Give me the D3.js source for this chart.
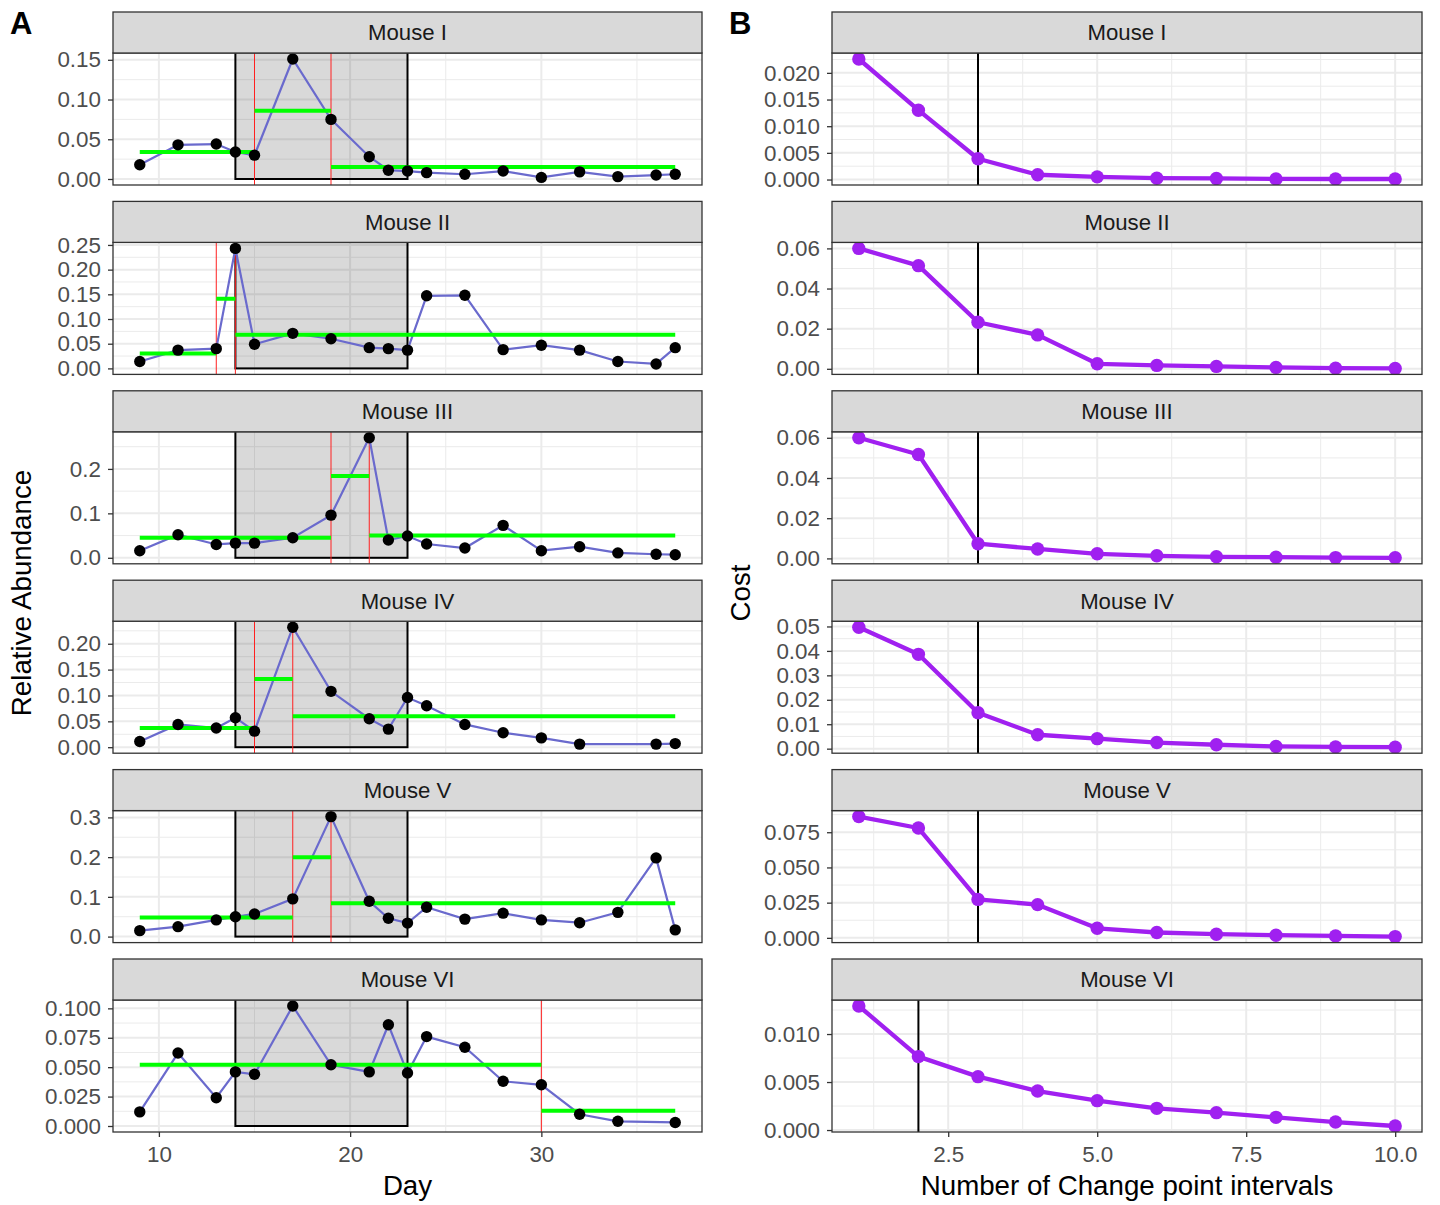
<!DOCTYPE html>
<meta charset="utf-8">
<style>
    body { margin: 0; background: #fff; }
    text { font-family: "Liberation Sans", Arial, sans-serif; }
    .tick text { fill: #4d4d4d; font-size: 22.4px; }
    .tick line { stroke: #333; stroke-width: 1.3px; }
    .domain { display: none; }
    .strip text { font-size: 22.2px; fill: #1a1a1a; }
    .title { font-size: 27.7px; fill: #000; }
</style>
<body>
<svg width="1440" height="1205"></svg>
<script src="https://d3js.org/d3.v7.min.js"></script>
<script>

    // ---- data ----
    var mice = ["Mouse I", "Mouse II", "Mouse III", "Mouse IV", "Mouse V", "Mouse VI"];
    var days = [9, 11, 13, 14, 15, 17, 19, 21, 22, 23, 24, 26, 28, 30, 32, 34, 36, 37];

    var abundI   = [0.018, 0.043, 0.044, 0.034, 0.030, 0.151, 0.075, 0.028, 0.011, 0.010, 0.008, 0.006, 0.010, 0.002, 0.009, 0.003, 0.005, 0.006];
    var abundII  = [0.014, 0.037, 0.040, 0.243, 0.049, 0.071, 0.060, 0.042, 0.040, 0.037, 0.147, 0.148, 0.038, 0.047, 0.037, 0.014, 0.009, 0.042];
    var abundIII = [0.016, 0.052, 0.030, 0.033, 0.033, 0.045, 0.096, 0.270, 0.040, 0.049, 0.031, 0.022, 0.073, 0.016, 0.025, 0.011, 0.008, 0.007];
    var abundIV  = [0.011, 0.044, 0.037, 0.057, 0.031, 0.232, 0.108, 0.055, 0.035, 0.096, 0.080, 0.044, 0.028, 0.018, 0.006, null, 0.006, 0.007];
    var abundV   = [0.015, 0.025, 0.042, 0.050, 0.057, 0.095, 0.302, 0.089, 0.046, 0.034, 0.074, 0.044, 0.059, 0.042, 0.035, 0.061, 0.198, 0.017];
    var abundVI  = [0.012, 0.062, 0.024, 0.046, 0.044, 0.102, 0.052, 0.046, 0.086, 0.045, 0.076, 0.067, 0.038, 0.035, 0.010, 0.004, null, 0.003];

    // change points (days) and the mean level of each interval
    var changeI = [15, 19],   levelI   = [0.034, 0.086, 0.015];
    var changeII = [13, 14],  levelII  = [0.030, 0.141, 0.068];
    var changeIII = [19, 21], levelIII = [0.045, 0.184, 0.050];
    var changeIV = [15, 17],  levelIV  = [0.037, 0.132, 0.060];
    var changeV = [17, 19],   levelV   = [0.048, 0.200, 0.084];
    var changeVI = [30],      levelVI  = [0.052, 0.013];

    var treatment = [14, 23];

    var intervals = [1, 2, 3, 4, 5, 6, 7, 8, 9, 10];
    var costI   = [0.0226, 0.0130, 0.0039, 0.0009, 0.0005, 0.00025, 0.0002, 0.00012, 0.0001, 0.0001];
    var costII  = [0.0600, 0.0514, 0.0232, 0.0169, 0.0025, 0.0017, 0.0012, 0.0007, 0.0003, 0.0002];
    var costIII = [0.0600, 0.0517, 0.0073, 0.0047, 0.0023, 0.0013, 0.0008, 0.0006, 0.0004, 0.0003];
    var costIV  = [0.0497, 0.0386, 0.0147, 0.0057, 0.0041, 0.0025, 0.0016, 0.0009, 0.0007, 0.0006];
    var costV   = [0.0861, 0.0780, 0.0273, 0.0236, 0.0068, 0.0038, 0.0026, 0.0019, 0.0014, 0.0009];
    var costVI  = [0.01292, 0.00765, 0.00556, 0.00406, 0.00306, 0.00226, 0.00181, 0.00132, 0.00083, 0.00042];
    var chosen  = [3, 3, 3, 3, 3, 2];

    var yTicksA = [
        [0, 0.05, 0.10, 0.15],
        [0, 0.05, 0.10, 0.15, 0.20, 0.25],
        [0, 0.1, 0.2],
        [0, 0.05, 0.10, 0.15, 0.20],
        [0, 0.1, 0.2, 0.3],
        [0, 0.025, 0.050, 0.075, 0.100]
    ];
    var yFmtA = [".2f", ".2f", ".1f", ".2f", ".1f", ".3f"];
    var yTicksB = [
        [0, 0.005, 0.010, 0.015, 0.020],
        [0, 0.02, 0.04, 0.06],
        [0, 0.02, 0.04, 0.06],
        [0, 0.01, 0.02, 0.03, 0.04, 0.05],
        [0, 0.025, 0.050, 0.075],
        [0, 0.005, 0.010]
    ];
    var yFmtB = [".3f", ".2f", ".2f", ".2f", ".3f", ".3f"];
    var xTicksA = [10, 20, 30], xMinorA = [15, 25, 35];
    var xTicksB = [2.5, 5.0, 7.5, 10.0], xMinorB = [1.25, 3.75, 6.25, 8.75];

    var abundance = [abundI, abundII, abundIII, abundIV, abundV, abundVI];
    var changes = [changeI, changeII, changeIII, changeIV, changeV, changeVI];
    var levels = [levelI, levelII, levelIII, levelIV, levelV, levelVI];
    var costs = [costI, costII, costIII, costIV, costV, costVI];

    // ---- layout ----
    var svg = d3.select("svg");
    var stripH = 41, plotH = 132, step = 189.4, firstTop = 12;

    var xA = d3.scaleLinear().domain([7.6, 38.4]).range([113, 702]);
    var xB = d3.scaleLinear().domain([0.55, 10.45]).range([832, 1422]);

    function minorOf(ticks, domain) {
        var st = ticks[1] - ticks[0], out = [];
        for (var v = ticks[0] - st / 2; v <= domain[1]; v += st) {
            if (v >= domain[0]) out.push(v);
        }
        return out;
    }

    function padded(vals) {
        var lo = d3.min(vals), hi = d3.max(vals), p = (hi - lo) * 0.05;
        return [lo - p, hi + p];
    }

    // draws the frame of one facet and returns the clipped group for the marks
    function facet(id, x, i, yDomain, yTicks, yFmt, xTicks, xMinor) {
        var top = firstTop + i * step + stripH, bottom = top + plotH;
        var x0 = x.range()[0], x1 = x.range()[1];
        var y = d3.scaleLinear().domain(yDomain).range([bottom, top]);
        var g = svg.append("g");

        g.append("rect").attr("x", x0).attr("y", top).attr("width", x1 - x0).attr("height", plotH).attr("fill", "#fff");

        var grid = g.append("g").attr("stroke", "#ebebeb");
        grid.selectAll(".ymin").data(minorOf(yTicks, yDomain)).enter().append("line")
                .attr("x1", x0).attr("x2", x1).attr("y1", y).attr("y2", y).attr("stroke-width", 1);
        grid.selectAll(".xmin").data(xMinor).enter().append("line")
                .attr("x1", x).attr("x2", x).attr("y1", top).attr("y2", bottom).attr("stroke-width", 1);
        grid.selectAll(".ymaj").data(yTicks).enter().append("line")
                .attr("x1", x0).attr("x2", x1).attr("y1", y).attr("y2", y).attr("stroke-width", 2);
        grid.selectAll(".xmaj").data(xTicks).enter().append("line")
                .attr("x1", x).attr("x2", x).attr("y1", top).attr("y2", bottom).attr("stroke-width", 2);

        svg.append("clipPath").attr("id", id)
                .append("rect").attr("x", x0).attr("y", top).attr("width", x1 - x0).attr("height", plotH);
        var marks = g.append("g").attr("clip-path", "url(#" + id + ")");

        // frame and strip are added after the marks are drawn
        var deco = svg.append("g").attr("class", "deco");
        deco.append("rect").attr("x", x0).attr("y", top).attr("width", x1 - x0).attr("height", plotH)
                .attr("fill", "none").attr("stroke", "#333").attr("stroke-width", 1.3);
        var strip = deco.append("g").attr("class", "strip");
        strip.append("rect").attr("x", x0).attr("y", top - stripH).attr("width", x1 - x0).attr("height", stripH)
                .attr("fill", "#d9d9d9").attr("stroke", "#333").attr("stroke-width", 1.3);
        strip.append("text").attr("x", (x0 + x1) / 2).attr("y", top - stripH / 2).attr("dy", "0.36em")
                .style("text-anchor", "middle").text(mice[i]);

        deco.append("g").attr("transform", "translate(" + x0 + ",0)")
                .call(d3.axisLeft(y).tickValues(yTicks).tickFormat(d3.format(yFmt)).tickSize(5).tickPadding(7));

        if (i === mice.length - 1) {
            deco.append("g").attr("transform", "translate(0," + bottom + ")")
                    .call(d3.axisBottom(x).tickValues(xTicks).tickFormat(d3.format(x === xB ? ".1f" : "d")).tickSize(5).tickPadding(9));
        }
        return { marks: marks, y: y, top: top, bottom: bottom };
    }

    // ---- panel A ----
    mice.forEach(function (name, i) {
        var pts = days.map(function (d, k) { return { day: d, v: abundance[i][k] }; })
                .filter(function (p) { return p.v != null; });
        var bounds = [days[0]].concat(changes[i]).concat([days[days.length - 1]]);
        var segs = levels[i].map(function (lv, k) { return { x1: bounds[k], x2: bounds[k + 1], v: lv }; });
        var dom = padded(pts.map(function (p) { return p.v; }).concat([0]));
        var f = facet("clipA" + i, xA, i, dom, yTicksA[i], yFmtA[i], xTicksA, xMinorA);
        var y = f.y, m = f.marks;

        m.append("rect")
                .attr("x", xA(treatment[0])).attr("width", xA(treatment[1]) - xA(treatment[0]))
                .attr("y", f.top - 5).attr("height", y(0) - f.top + 5)
                .attr("fill", "rgba(0,0,0,0.15)").attr("stroke", "#000").attr("stroke-width", 2);

        m.selectAll(".cp").data(changes[i]).enter().append("line")
                .attr("x1", xA).attr("x2", xA).attr("y1", f.top).attr("y2", f.bottom)
                .attr("stroke", "#ff2020").attr("stroke-width", 1);

        m.append("path").datum(pts)
                .attr("fill", "none").attr("stroke", "#6a6acd").attr("stroke-width", 2.2)
                .attr("d", d3.line().x(function (p) { return xA(p.day); }).y(function (p) { return y(p.v); }));

        m.selectAll(".seg").data(segs).enter().append("line")
                .attr("x1", function (s) { return xA(s.x1); }).attr("x2", function (s) { return xA(s.x2); })
                .attr("y1", function (s) { return y(s.v); }).attr("y2", function (s) { return y(s.v); })
                .attr("stroke", "#00ff00").attr("stroke-width", 4);

        m.selectAll(".pt").data(pts).enter().append("circle")
                .attr("cx", function (p) { return xA(p.day); }).attr("cy", function (p) { return y(p.v); })
                .attr("r", 5.7).attr("fill", "#000");
    });

    // ---- panel B ----
    mice.forEach(function (name, i) {
        var pts = intervals.map(function (n, k) { return { n: n, v: costs[i][k] }; });
        var dom = padded(costs[i]);
        var f = facet("clipB" + i, xB, i, dom, yTicksB[i], yFmtB[i], xTicksB, xMinorB);
        var y = f.y, m = f.marks;

        m.append("line")
                .attr("x1", xB(chosen[i])).attr("x2", xB(chosen[i])).attr("y1", f.top).attr("y2", f.bottom)
                .attr("stroke", "#000").attr("stroke-width", 2);

        m.append("path").datum(pts)
                .attr("fill", "none").attr("stroke", "#a020f0").attr("stroke-width", 4.3).attr("stroke-linejoin", "round")
                .attr("d", d3.line().x(function (p) { return xB(p.n); }).y(function (p) { return y(p.v); }));

        m.selectAll(".pt").data(pts).enter().append("circle")
                .attr("cx", function (p) { return xB(p.n); }).attr("cy", function (p) { return y(p.v); })
                .attr("r", 6.7).attr("fill", "#a020f0");
    });

    // ---- titles ----
    svg.append("text").attr("class", "title").attr("x", 407.5).attr("y", 1195).style("text-anchor", "middle").text("Day");
    svg.append("text").attr("class", "title").attr("x", 1127).attr("y", 1195).style("text-anchor", "middle").text("Number of Change point intervals");
    svg.append("text").attr("class", "title").attr("transform", "translate(31,593) rotate(-90)").style("text-anchor", "middle").text("Relative Abundance");
    svg.append("text").attr("class", "title").attr("transform", "translate(750,593) rotate(-90)").style("text-anchor", "middle").text("Cost");
    svg.append("text").attr("x", 10).attr("y", 34).style("font-size", "31px").style("font-weight", "bold").text("A");
    svg.append("text").attr("x", 729).attr("y", 34).style("font-size", "31px").style("font-weight", "bold").text("B");

</script>
</body>
